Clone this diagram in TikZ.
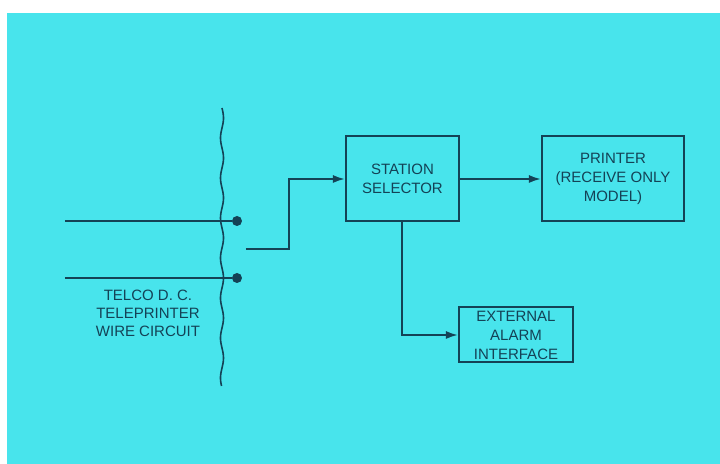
\documentclass[tikz,border=0pt]{standalone}
\usepackage{fontspec}
\setmainfont{Liberation Sans}
\usetikzlibrary{arrows.meta}
\definecolor{panelcyan}{RGB}{72,228,236}
\definecolor{inkteal}{RGB}{20,66,86}

\begin{document}
\begin{tikzpicture}[x=0.5pt, y=-0.5pt,
    blockbox/.style={draw=inkteal, line width=1pt, inner sep=0pt, align=center, text=inkteal, font=\fontsize{7.5}{9.5}\selectfont},
    wire/.style={draw=inkteal, line width=1pt},
    feed/.style={wire, -{Latex[length=6pt,width=4pt]}},
    tap/.style={circle, fill=inkteal, inner sep=0pt, minimum size=5pt}]
    % panel
    \fill[white] (0,0) rectangle (720,464);
    \fill[panelcyan] (7,13) rectangle (720,464);
    \useasboundingbox (0,0) rectangle (720,464);

    % telco line, broken off
    \draw[inkteal, line width=0.8pt] plot[domain=108:386, samples=120, smooth] ({222+1.5*sin(9*(\x-108))}, \x);

    \coordinate (lineA) at (65,221);
    \coordinate (lineB) at (65,278);
    \node[tap] (tapA) at (237,221) {};
    \node[tap] (tapB) at (237,278) {};
    \draw[wire] (lineA) -- (tapA);
    \draw[wire] (lineB) -- (tapB);

    \node[text=inkteal, align=center, font=\fontsize{7.5}{9}\selectfont] (telco) at (148,313) {TELCO D. C.\\TELEPRINTER\\WIRE CIRCUIT};

    % blocks
    \node[blockbox, minimum width=56.5pt, minimum height=42.5pt] (station) at (402.5,179) {STATION\\SELECTOR};
    \node[blockbox, minimum width=71pt, minimum height=42.5pt] (printer) at (613,179) {PRINTER\\(RECEIVE ONLY\\MODEL)};
    \node[blockbox, minimum width=57pt, minimum height=27.5pt] (alarm) at (516,335) {EXTERNAL\\ALARM\\INTERFACE};

    \coordinate (drop) at (246,249);
    \draw[feed] (drop) -- ++(43,0) |- (station.west);
    \draw[feed] (station) -- (printer);
    \draw[feed] (station.south) |- (alarm.west);
\end{tikzpicture}
\end{document}
